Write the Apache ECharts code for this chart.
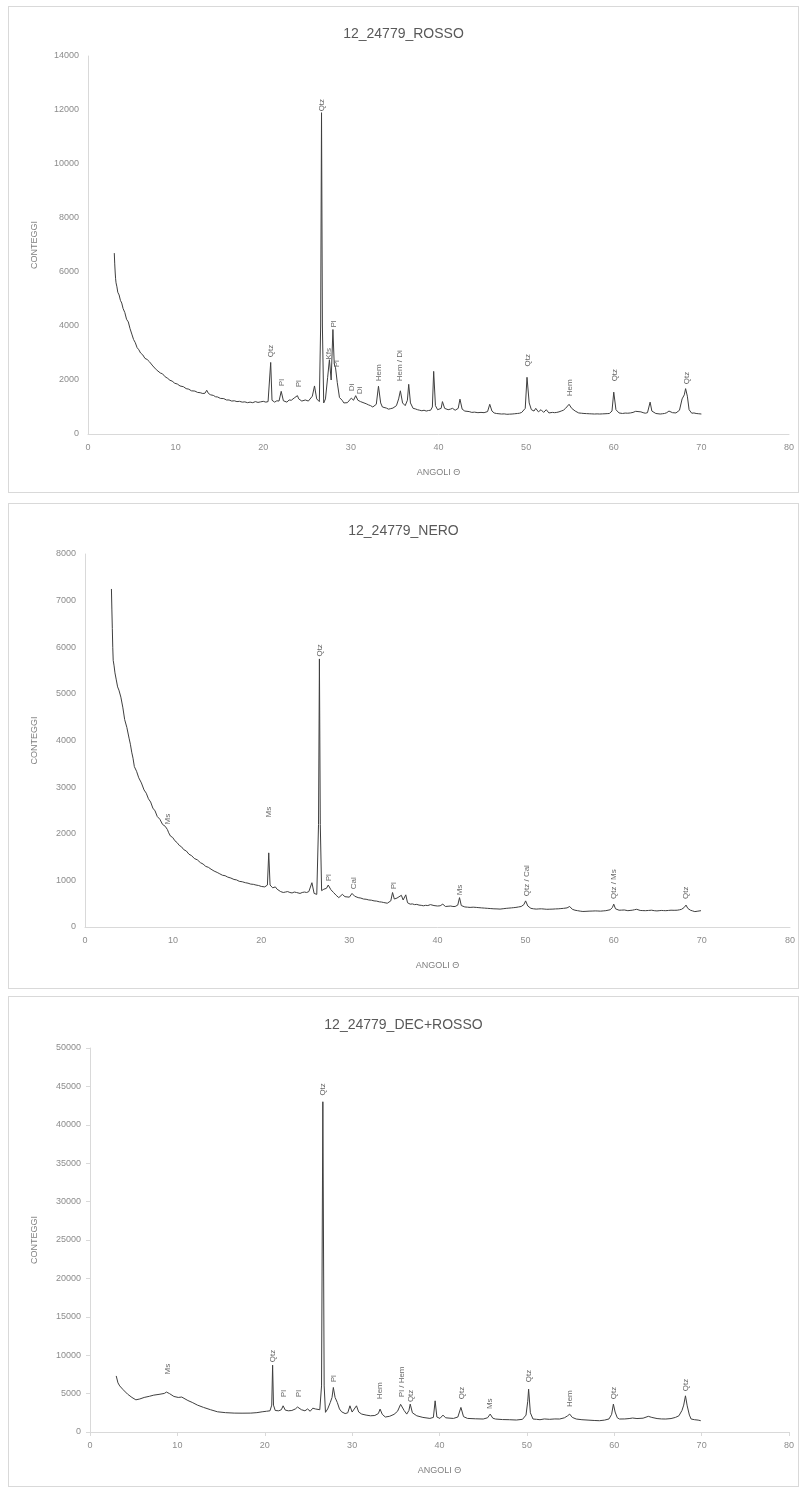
<!DOCTYPE html>
<html>
<head>
<meta charset="utf-8">
<script src="https://cdn.jsdelivr.net/npm/echarts@6/dist/echarts.min.js"></script>
<style>
  html, body { margin: 0; padding: 0; background: #ffffff; }
  body { width: 801px; height: 1488px; position: relative; overflow: hidden; }
  .panel { position: absolute; left: 8px; width: 791px; border: 1px solid #d9d9d9; box-sizing: border-box; background: #fff; }
</style>
</head>
<body>
<div id="p1" class="panel" style="top:6px;height:487px;"></div>
<div id="p2" class="panel" style="top:503px;height:486px;"></div>
<div id="p3" class="panel" style="top:996px;height:491px;"></div>
<script>
// XRD patterns: [angle 2θ, counts]
const rossoPattern = [
  [3.0,6700],[3.05,6300],[3.1,6000],[3.15,5750],[3.2,5600],[3.3,5450],[3.4,5250],[3.55,5150],[3.7,4950],[3.85,4850],
  [4.0,4650],[4.2,4500],[4.4,4250],[4.6,4150],[4.8,3900],[5.0,3700],[5.2,3500],[5.4,3380],[5.6,3200],[5.8,3120],
  [6.0,3000],[6.25,2930],[6.5,2800],[6.75,2760],[7.0,2680],[7.2,2640],[7.4,2520],[7.6,2480],[7.8,2380],[8.0,2350],
  [8.25,2260],[8.5,2230],[8.8,2120],[9.1,2060],[9.35,1990],[9.6,1960],[9.9,1880],[10.2,1850],[10.5,1780],[10.9,1750],
  [11.2,1680],[11.5,1660],[11.8,1600],[12.2,1590],[12.5,1540],[12.8,1530],[13.1,1500],[13.35,1510],[13.55,1620],[13.75,1500],
  [14.0,1450],[14.3,1430],[14.55,1380],[14.8,1370],[15.1,1320],[15.5,1310],[15.8,1260],[16.1,1260],[16.4,1220],[16.7,1230],
  [17.0,1200],[17.3,1210],[17.6,1180],[17.9,1190],[18.2,1160],[18.5,1180],[18.8,1160],[19.1,1200],[19.4,1170],[19.7,1190],
  [20.0,1210],[20.3,1180],[20.55,1200],[20.7,1250],
  [20.85,2650],[21.0,1250],[21.3,1180],[21.55,1230],[21.8,1220],[22.05,1580],[22.3,1230],[22.5,1200],[22.7,1180],[22.95,1260],
  [23.2,1250],[23.4,1300],[23.6,1350],[23.9,1420],[24.05,1300],[24.2,1280],[24.4,1220],[24.6,1200],[24.8,1260],[25.0,1280],
  [25.15,1220],[25.3,1250],[25.6,1400],[25.85,1780],[26.1,1300],[26.4,1200],[26.55,4000],[26.65,11900],
  [26.75,4000],[26.9,1150],[27.1,1300],[27.35,2100],[27.55,2750],[27.75,2000],[27.95,3870],[28.1,2600],[28.25,2450],[28.45,1900],
  [28.7,1350],[29.0,1250],[29.2,1150],[29.4,1100],[29.6,1160],[29.8,1200],[30.05,1330],[30.3,1250],[30.55,1420],[30.8,1250],
  [31.1,1200],[31.3,1230],[31.5,1150],[31.75,1120],[32.0,1080],[32.25,1050],[32.5,1000],[32.7,1030],[32.9,1100],[33.15,1770],
  [33.4,1150],[33.6,1000],[33.8,950],[34.05,960],[34.3,920],[34.55,940],[34.8,960],[35.0,1000],[35.2,1050],[35.45,1300],
  [35.65,1600],[35.9,1150],[36.2,1050],[36.45,1250],[36.6,1840],[36.8,1150],[37.1,950],[37.35,930],[37.6,900],[37.85,880],
  [38.1,860],[38.35,880],[38.6,850],[38.85,870],
  [39.1,880],[39.3,1000],[39.45,2320],[39.65,1050],[39.9,900],[40.3,950],[40.45,1200],[40.7,950],[41.1,900],[41.35,920],[41.6,950],
  [41.9,880],[42.25,950],[42.45,1290],[42.7,920],[43.0,850],[43.2,820],[43.5,830],[43.8,800],[44.1,810],[44.5,790],[44.85,800],[45.2,790],[45.6,830],[45.85,1100],
  [46.1,850],[46.35,780],[46.6,760],[46.9,750],[47.2,740],[47.5,745],[47.8,730],[48.1,735],[48.4,740],[48.7,750],[49.0,760],[49.25,770],[49.5,800],[49.9,950],[50.1,2100],[50.35,1150],
  [50.6,900],[50.9,850],[51.1,950],[51.4,820],[51.7,900],[52.0,800],[52.3,900],[52.6,780],[53.0,800],[53.25,790],[53.5,800],
  [53.75,820],[54.0,850],[54.25,880],[54.5,950],[54.9,1100],[55.2,950],[55.6,850],[56.0,780],[56.3,770],[56.6,760],[56.9,755],[57.2,750],[57.5,745],[57.8,740],[58.1,745],[58.4,740],
  [58.7,745],[59.0,750],[59.25,755],[59.5,760],[59.8,850],[60.0,1550],[60.25,900],[60.6,780],[61.0,760],[61.3,775],[61.6,770],[61.9,780],[62.2,800],[62.5,840],[62.7,900],
  [63.1,820],[63.35,790],[63.6,770],[63.85,790],[64.0,850],[64.15,1180],[64.35,850],[64.8,760],[65.05,750],[65.3,740],[65.55,750],[65.8,760],[66.05,790],[66.3,850],[66.7,790],
  [67.1,780],[67.3,800],[67.5,880],[67.8,1300],[68.05,1450],[68.2,1680],[68.4,1400],[68.6,900],[68.9,770],[69.15,780],[69.4,760],[69.7,750],[70.0,740]
];

const neroPattern = [
  [3.0,7250],[3.05,6800],[3.1,6400],[3.15,6000],[3.2,5720],[3.3,5600],[3.4,5450],[3.55,5300],[3.7,5150],[3.85,5080],
  [4.07,4930],[4.3,4700],[4.5,4450],[4.75,4280],[5.0,4050],[5.15,3920],[5.3,3750],[5.45,3620],[5.6,3440],[5.85,3340],
  [6.1,3200],[6.4,3090],[6.7,2940],[6.95,2870],[7.2,2750],[7.45,2680],[7.7,2550],[7.95,2490],[8.2,2370],[8.5,2310],
  [8.8,2200],[9.1,2160],[9.35,2090],[9.5,2020],[9.7,1950],[9.95,1920],[10.2,1850],[10.45,1810],[10.7,1750],[10.95,1720],
  [11.2,1660],[11.5,1630],[11.8,1560],[12.1,1530],[12.4,1470],[12.75,1440],[13.1,1380],[13.4,1350],[13.7,1300],[14.0,1280],
  [14.3,1240],[14.65,1200],[15.0,1170],[15.3,1140],[15.6,1110],[15.9,1100],[16.2,1070],[16.55,1050],[16.9,1020],[17.2,1010],
  [17.5,980],[17.85,970],[18.2,950],[18.5,940],[18.8,920],[19.1,915],[19.4,900],[19.7,890],[20.0,870],[20.2,880],[20.4,860],[20.7,900],
  [20.85,1590],[21.0,900],[21.15,860],[21.3,840],[21.45,870],[21.6,860],[21.8,810],[22.0,780],[22.2,760],[22.35,770],[22.5,740],[22.75,750],
  [23.0,760],[23.25,740],[23.5,730],[23.75,750],[24.0,740],[24.2,730],[24.4,720],[24.65,740],[24.9,750],[25.15,740],[25.4,760],
  [25.75,950],[26.0,720],[26.3,700],[26.5,2200],[26.6,5750],[26.7,2200],[26.85,780],[27.1,810],[27.4,830],[27.6,900],
  [27.9,800],[28.2,740],[28.5,680],[28.8,630],[29.0,660],[29.2,700],[29.5,650],[29.7,670],[30.0,640],[30.3,720],[30.6,660],
  [31.0,630],[31.3,620],[31.6,600],[31.9,595],[32.2,580],[32.5,575],[32.8,560],[33.1,555],[33.4,540],[33.65,535],[33.9,525],[34.3,510],[34.7,560],[34.9,740],[35.1,600],
  [35.4,620],[35.6,600],[35.9,680],[36.1,580],[36.4,690],[36.6,520],[36.9,490],[37.15,495],[37.4,480],[37.65,485],[37.9,470],[38.15,465],[38.4,455],
  [38.65,465],[38.9,460],[39.2,480],[39.4,520],[39.6,460],[40.0,450],[40.3,455],[40.6,490],[40.9,440],[41.2,445],[41.5,450],[41.75,440],[42.0,440],
  [42.3,470],[42.5,630],[42.7,460],[43.1,430],[43.4,425],[43.7,420],[44.05,425],[44.4,420],[44.7,415],[45.0,410],[45.35,405],[45.7,400],[46.05,395],[46.4,390],[46.75,388],[47.1,384],
  [47.45,392],[47.8,400],[48.1,405],[48.4,410],[48.65,415],[48.9,420],[49.2,430],[49.5,440],[49.8,480],[50.0,560],[50.25,450],[50.6,400],[50.9,390],[51.2,384],[51.5,388],[51.8,390],
  [52.1,385],[52.4,380],[52.75,382],[53.1,384],[53.4,388],[53.7,390],[54.0,395],[54.3,400],[54.7,410],[55.0,440],[55.3,380],[55.6,360],[55.9,350],[56.2,340],[56.5,333],[56.85,336],[57.2,340],
  [57.55,342],[57.9,345],[58.2,343],[58.5,340],[58.8,345],[59.1,350],[59.35,360],[59.6,370],[59.85,420],[60.0,490],[60.2,390],[60.4,370],[60.6,360],[60.9,362],[61.2,365],[61.4,355],[61.6,350],
  [61.85,355],[62.1,360],[62.35,370],[62.6,380],[63.0,355],[63.3,352],[63.6,350],[63.95,355],[64.3,360],[64.6,350],[64.9,345],[65.15,350],[65.4,355],[65.65,352],[65.9,350],[66.2,355],[66.5,360],[66.85,358],[67.2,360],
  [67.45,368],[67.7,380],[68.0,420],[68.2,470],[68.4,400],[68.7,360],[68.95,345],[69.2,330],[69.55,340],[69.9,350]
];

const decRossoPattern = [
  [3.0,7300],[3.2,6400],[3.4,6000],[3.8,5500],[4.3,4930],[4.8,4500],[5.25,4190],[5.7,4300],[6.2,4500],[6.8,4650],
  [7.3,4800],[7.9,4900],[8.5,5020],[8.75,5200],[8.9,5360],[9.1,5000],[9.6,4630],[10.1,4500],[10.5,4550],[10.7,4350],
  [11.2,4100],[11.7,3850],[12.3,3500],[13.0,3200],[13.8,2900],[14.6,2630],[15.5,2520],[16.5,2460],[17.4,2450],[18.4,2460],
  [19.1,2520],[19.7,2630],[20.2,2700],[20.6,2760],[20.8,3500],[20.9,8700],[21.0,3500],[21.2,2800],[21.6,2760],[21.9,2900],
  [22.1,3410],[22.35,2850],[22.7,2760],[23.1,2800],[23.5,3000],[23.75,3250],[23.95,3200],[24.2,2900],[24.6,2760],[24.9,3000],
  [25.2,2700],[25.5,3100],[25.8,3000],[26.0,2760],[26.3,2900],[26.5,6000],[26.65,43000],[26.8,6000],[26.95,2560],[27.2,3000],
  [27.5,3850],[27.7,4500],[27.85,5800],[28.05,4500],[28.3,3850],[28.55,3000],[28.8,2630],[29.2,2400],[29.5,2500],[29.75,3410],
  [30.0,2600],[30.2,2500],[30.5,3410],[30.75,2600],[31.1,2330],[31.6,2200],[32.1,2110],[32.6,2150],[33.0,2400],[33.2,2980],
  [33.45,2300],[33.8,1950],[34.3,2050],[34.8,2300],[35.2,2700],[35.55,3600],[35.7,3850],[35.95,2800],[36.25,2330],[36.5,2800],
  [36.65,3630],[36.9,2500],[37.4,2110],[38.1,1900],[38.9,1770],[39.3,1900],[39.5,4060],[39.7,1950],[40.05,1770],[40.4,2200],
  [40.7,1850],[41.2,1800],[41.6,1770],[42.1,1950],[42.45,3200],[42.75,2000],[43.2,1770],[44.1,1720],[45.0,1690],[45.5,1850],
  [45.8,2330],[46.1,1800],[46.4,1690],[47.2,1620],[48.0,1600],[48.8,1560],[49.5,1650],[49.9,2200],[50.1,4000],[50.2,5580],
  [50.4,2500],[50.7,1690],[51.1,1650],[51.5,1600],[52.0,1700],[52.6,1650],[53.2,1700],[53.75,1690],[54.3,1850],[54.65,2100],
  [54.9,2330],[55.2,1900],[55.65,1690],[56.3,1600],[57.0,1550],[57.7,1500],[58.3,1470],[58.9,1550],[59.4,1700],[59.7,2300],
  [59.9,3630],[60.1,2600],[60.35,1850],[60.6,1690],[61.2,1700],[61.7,1750],[62.1,1820],[62.6,1750],[63.3,1800],[63.9,2040],
  [64.3,1900],[64.9,1750],[65.4,1700],[65.9,1690],[66.5,1750],[67.0,1900],[67.4,2110],[67.75,2800],[67.95,3500],[68.15,4710],
  [68.35,3400],[68.6,2200],[68.8,1690],[69.2,1600],[69.6,1550],[69.9,1470]
];

// Phase annotations: [angle, counts at label start, phase]
const rossoPhases = [
  [20.9,2840,'Qtz'],[22.1,1770,'Pl'],[24.0,1730,'Pl'],[26.65,11950,'Qtz'],[27.5,2760,'Kfs'],[28.0,3940,'Pl'],
  [28.45,2470,'Pl'],[30.1,1580,'Di'],[31.0,1470,'Di'],[33.2,1950,'Hem'],[35.6,1950,'Hem / Di'],[50.2,2500,'Qtz'],
  [55.0,1400,'Hem'],[60.1,1950,'Qtz'],[68.3,1840,'Qtz']
];
const neroPhases = [
  [9.35,2200,'Ms'],[20.8,2350,'Ms'],[26.6,5800,'Qtz'],[27.7,980,'Pl'],[30.5,810,'Cal'],[35.0,810,'Pl'],
  [42.5,680,'Ms'],[50.1,660,'Qtz / Cal'],[60.0,600,'Qtz / Ms'],[68.2,600,'Qtz']
];
const decRossoPhases = [
  [8.9,7500,'Ms'],[20.9,9080,'Qtz'],[22.2,4540,'Pl'],[23.9,4540,'Pl'],[26.65,43800,'Qtz'],[27.9,6480,'Pl'],
  [33.2,4280,'Hem'],[35.7,4540,'Pl / Hem'],[36.7,3890,'Qtz'],[42.5,4280,'Qtz'],[45.8,2980,'Ms'],[50.2,6480,'Qtz'],
  [54.9,3240,'Hem'],[60.0,4280,'Qtz'],[68.2,5320,'Qtz']
];

const xTicks = { min: 0, max: 80, interval: 10 };

function buildOption(cfg) {
  const font = '"Liberation Sans", Arial, sans-serif';
  return {
    animation: false,
    backgroundColor: '#ffffff',
    title: {
      text: cfg.title, left: 'center', top: cfg.titleTop,
      textStyle: { fontFamily: font, fontSize: 14, fontWeight: 'normal', color: '#595959' }
    },
    grid: cfg.grid,
    xAxis: {
      type: 'value', min: xTicks.min, max: xTicks.max, interval: xTicks.interval,
      name: 'ANGOLI Θ', nameLocation: 'middle', nameGap: 34,
      nameTextStyle: { fontFamily: font, fontSize: 9, color: '#7f7f7f' },
      axisLine: { show: true, lineStyle: { color: '#d9d9d9', width: 1 } },
      axisTick: { show: cfg.ticks, length: 4, lineStyle: { color: '#d9d9d9' } },
      axisLabel: { fontFamily: font, fontSize: 9, color: '#8c8c8c', margin: 9 },
      splitLine: { show: false }
    },
    yAxis: {
      type: 'value', min: 0, max: cfg.yMax, interval: cfg.yStep,
      name: 'CONTEGGI', nameLocation: 'middle', nameGap: cfg.nameGap, nameRotate: 90,
      nameTextStyle: { fontFamily: font, fontSize: 9, color: '#7f7f7f' },
      axisLine: { show: true, lineStyle: { color: '#d9d9d9', width: 1 } },
      axisTick: { show: cfg.ticks, length: 4, lineStyle: { color: '#d9d9d9' } },
      axisLabel: { fontFamily: font, fontSize: 9, color: '#8c8c8c', margin: 9, formatter: v => String(v) },
      splitLine: { show: false }
    },
    series: [
      {
        type: 'line', data: cfg.pattern, showSymbol: false, symbol: 'none',
        lineStyle: { color: '#3f3f3f', width: 1 }, silent: true
      },
      {
        type: 'scatter', symbolSize: 0, silent: true,
        data: cfg.phases.map(p => ({ value: [p[0], p[1]], name: p[2] })),
        label: {
          show: true, position: 'inside', rotate: 90, align: 'left', verticalAlign: 'middle',
          formatter: p => p.name,
          fontFamily: font, fontSize: 8, color: '#3f3f3f'
        }
      }
    ]
  };
}

const panels = [
  { id: 'p1', title: '12_24779_ROSSO', titleTop: 15, pattern: rossoPattern, phases: rossoPhases,
    yMax: 14000, yStep: 2000, grid: { left: 79, right: 9, top: 49, bottom: 58 }, nameGap: 49, ticks: false },
  { id: 'p2', title: '12_24779_NERO', titleTop: 15, pattern: neroPattern, phases: neroPhases,
    yMax: 8000, yStep: 1000, grid: { left: 76, right: 8, top: 50, bottom: 61 }, nameGap: 46, ticks: false },
  { id: 'p3', title: '12_24779_DEC+ROSSO', titleTop: 16, pattern: decRossoPattern, phases: decRossoPhases,
    yMax: 50000, yStep: 5000, grid: { left: 81, right: 9, top: 51, bottom: 54 }, nameGap: 51, ticks: true }
];

panels.forEach(cfg => {
  const chart = echarts.init(document.getElementById(cfg.id), null, { renderer: 'canvas' });
  chart.setOption(buildOption(cfg));
});
</script>
</body>
</html>
